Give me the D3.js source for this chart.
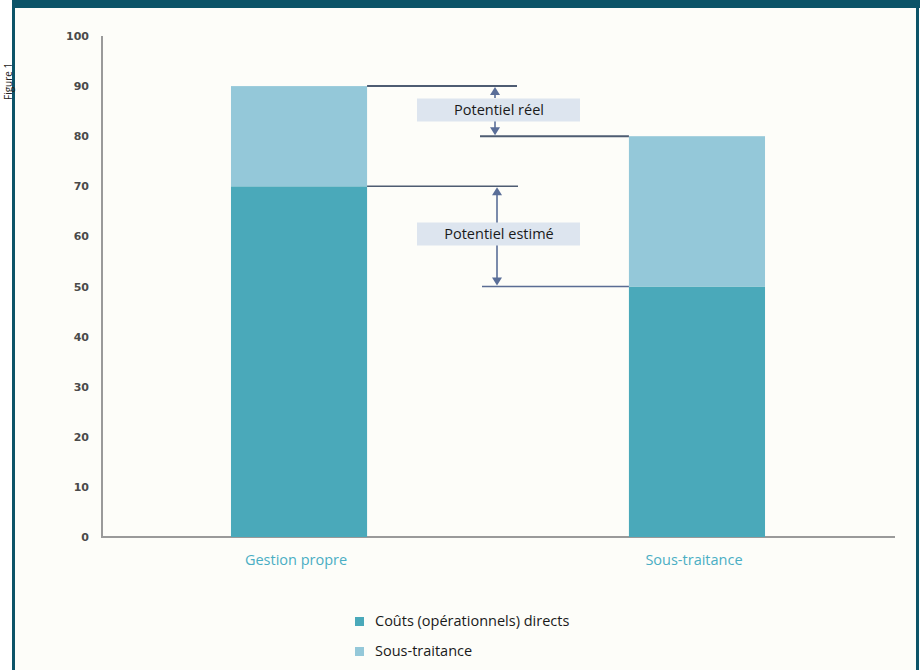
<!DOCTYPE html>
<html>
<head>
<meta charset="utf-8">
<script src="https://cdn.jsdelivr.net/npm/d3@7"></script>
<style>
  html, body { margin: 0; padding: 0; background: #ffffff; }
  svg { display: block; }
</style>
</head>
<body>
<script>
// ---- data ----
const categories = ["Gestion propre", "Sous-traitance"];
const directCosts = [70, 50];        // Coûts (opérationnels) directs
const subcontracting = [20, 30];     // Sous-traitance
const yTicks = [0, 10, 20, 30, 40, 50, 60, 70, 80, 90, 100];
const legendLabels = ["Coûts (opérationnels) directs", "Sous-traitance"];
const annotationLabels = ["Potentiel réel", "Potentiel estimé"];
const figureLabel = "Figure 1";

const W = 923, H = 670;
const colors = { direct: "#4aa9ba", sub: "#94c8d9" };
const textFont = "Open Sans, sans-serif";

const svg = d3.select("body").append("svg").attr("width", W).attr("height", H);

// frame
svg.append("rect").attr("x", 0).attr("y", 0).attr("width", W).attr("height", H).attr("fill", "#ffffff");
svg.append("rect").attr("x", 15).attr("y", 8).attr("width", 901).attr("height", H - 8).attr("fill", "#fdfdf9");
svg.append("rect").attr("x", 12).attr("y", 0).attr("width", 908).attr("height", 8).attr("fill", "#0c5468");
svg.append("rect").attr("x", 12).attr("y", 0).attr("width", 3).attr("height", H).attr("fill", "#0c5468");
svg.append("rect").attr("x", 916).attr("y", 0).attr("width", 3).attr("height", H).attr("fill", "#0c5468");
svg.append("text")
  .attr("transform", "translate(11.5,100) rotate(-90)")
  .attr("font-family", textFont).attr("font-size", 10)
  .attr("fill", "#222").text(figureLabel);

// scales
const y = d3.scaleLinear().domain([0, 100]).range([537, 36]);
const x = d3.scaleBand().domain(categories).range([103, 893])
  .paddingInner(0.658).paddingOuter(0.3216);

// axes lines
const g = svg.append("g");
g.append("line").attr("x1", 102).attr("x2", 102).attr("y1", y(100)).attr("y2", y(0) + 1)
  .attr("stroke", "#9a9a9a").attr("stroke-width", 2);
g.append("line").attr("x1", 101).attr("x2", 895).attr("y1", y(0)).attr("y2", y(0))
  .attr("stroke", "#9a9a9a").attr("stroke-width", 2);

// y tick labels
const yAxis = d3.axisLeft(y).tickValues(yTicks).tickSize(0).tickPadding(0);
const ya = svg.append("g").attr("transform", "translate(89,0)").call(yAxis);
ya.select(".domain").remove();
ya.selectAll("text")
  .attr("font-family", "Verdana, DejaVu Sans, sans-serif")
  .attr("font-weight", "bold").attr("font-size", 11).attr("fill", "#4a4a4a");

// bars
const bars = svg.append("g");
categories.forEach((c, i) => {
  bars.append("rect").attr("x", x(c)).attr("width", x.bandwidth())
    .attr("y", y(directCosts[i])).attr("height", y(0) - y(directCosts[i]))
    .attr("fill", colors.direct);
  const top = directCosts[i] + subcontracting[i];
  bars.append("rect").attr("x", x(c)).attr("width", x.bandwidth())
    .attr("y", y(top)).attr("height", y(directCosts[i]) - y(top))
    .attr("fill", colors.sub);
});

// category labels
const xAxis = d3.axisBottom(x).tickSize(0).tickPadding(0);
const xa = svg.append("g").attr("transform", "translate(-3," + (y(0) + 18) + ")").call(xAxis);
xa.select(".domain").remove();
xa.selectAll("text")
  .attr("font-family", textFont).attr("font-size", 14.5)
  .attr("fill", "#4aaec4");

// annotations
const ann = svg.append("g");
const lineColor = "#4e5c72";
const leftBarRight = x(categories[0]) + x.bandwidth();
const rightBarLeft = x(categories[1]);
const totals = categories.map((c, i) => directCosts[i] + subcontracting[i]);
ann.append("line").attr("x1", leftBarRight).attr("x2", 517).attr("y1", y(totals[0])).attr("y2", y(totals[0]))
  .attr("stroke", lineColor).attr("stroke-width", 2);
ann.append("line").attr("x1", 480).attr("x2", rightBarLeft).attr("y1", y(totals[1])).attr("y2", y(totals[1]))
  .attr("stroke", lineColor).attr("stroke-width", 2);
ann.append("line").attr("x1", leftBarRight).attr("x2", 518).attr("y1", y(directCosts[0])).attr("y2", y(directCosts[0]))
  .attr("stroke", lineColor).attr("stroke-width", 1.5);
ann.append("line").attr("x1", 482).attr("x2", rightBarLeft).attr("y1", y(directCosts[1])).attr("y2", y(directCosts[1]))
  .attr("stroke", "#5a6c94").attr("stroke-width", 1.5);

const arrowColor = "#5a6e98";
function arrow(xp, yFrom, yTo) {
  const dir = yTo < yFrom ? -1 : 1;
  ann.append("line").attr("x1", xp).attr("x2", xp).attr("y1", yFrom).attr("y2", yTo - dir * 4)
    .attr("stroke", arrowColor).attr("stroke-width", 1.6);
  ann.append("path")
    .attr("d", `M${xp},${yTo} L${xp - 5},${yTo - dir * 8} L${xp + 5},${yTo - dir * 8} Z`)
    .attr("fill", arrowColor);
}
function box(cx, cy, label) {
  ann.append("rect").attr("x", cx - 82).attr("y", cy - 11).attr("width", 163).attr("height", 23)
    .attr("fill", "#dde5ef");
  ann.append("text").attr("x", cx).attr("y", cy + 5).attr("text-anchor", "middle")
    .attr("font-family", textFont).attr("font-size", 14.5).attr("fill", "#1a1a1a")
    .text(label);
}
arrow(495, 98, y(totals[0]) + 1);
arrow(495, 121, y(totals[1]) - 1);
box(499, 109.5, annotationLabels[0]);
arrow(497, 224, y(directCosts[0]) + 1);
arrow(497, 244, y(directCosts[1]) - 1);
box(499, 233.5, annotationLabels[1]);

// legend
const leg = svg.append("g");
[colors.direct, colors.sub].forEach((col, i) => {
  leg.append("rect").attr("x", 355).attr("y", 617 + i * 30).attr("width", 9).attr("height", 9).attr("fill", col);
  leg.append("text").attr("x", 375).attr("y", 626 + i * 30)
    .attr("font-family", textFont).attr("font-size", 14.5).attr("fill", "#1a1a1a")
    .text(legendLabels[i]);
});
</script>
</body>
</html>
